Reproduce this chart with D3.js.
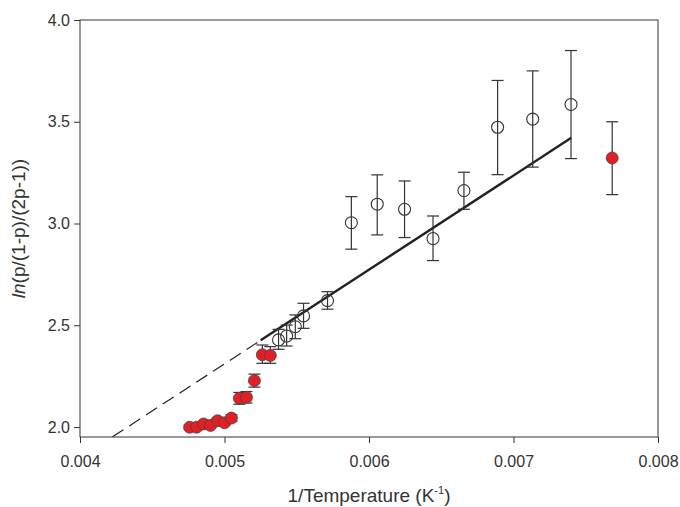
<!DOCTYPE html>
<html>
<head>
<meta charset="utf-8">
<script src="https://cdn.jsdelivr.net/npm/d3@7"></script>
<style>
  body { margin: 0; background: #fff; }
  text { font-family: "Liberation Sans", Arial, sans-serif; fill: #333; }
</style>
</head>
<body>
<div id="chart"></div>
<script>
// red (filled) points
const redX = [0.004759, 0.004807, 0.004855, 0.004903, 0.004952, 0.005, 0.005048, 0.005103, 0.005152, 0.005207, 0.005262, 0.005317, 0.007683];
const redY = [1.999, 1.999, 2.015, 2.008, 2.031, 2.021, 2.044, 2.141, 2.146, 2.228, 2.355, 2.352, 3.322];
const redLo = [1.989, 1.989, 2.003, 1.997, 2.018, 2.009, 2.028, 2.112, 2.118, 2.196, 2.313, 2.313, 3.142];
const redHi = [2.009, 2.009, 2.027, 2.019, 2.044, 2.033, 2.06, 2.17, 2.174, 2.26, 2.403, 2.395, 3.50];

// open points
const openX = [0.005374, 0.00543, 0.00549, 0.005547, 0.005713, 0.005878, 0.006057, 0.006246, 0.006443, 0.006657, 0.00689, 0.007133, 0.007398];
const openY = [2.428, 2.447, 2.493, 2.546, 2.621, 3.004, 3.095, 3.070, 2.926, 3.162, 3.473, 3.513, 3.585];
const openLo = [2.382, 2.398, 2.434, 2.485, 2.579, 2.874, 2.944, 2.931, 2.818, 3.07, 3.240, 3.277, 3.319];
const openHi = [2.480, 2.501, 2.551, 2.608, 2.665, 3.132, 3.239, 3.209, 3.037, 3.252, 3.703, 3.750, 3.850];

// fitted line: dashed part then solid part
const dashX = [0.004225, 0.00525];
const dashY = [1.952, 2.426];
const solidX = [0.00525, 0.0074];
const solidY = [2.426, 3.421];

const xTicks = [0.004, 0.005, 0.006, 0.007, 0.008];
const yTicks = [2.0, 2.5, 3.0, 3.5, 4.0];

const width = 680, height = 507;
const margin = { top: 20, right: 22, bottom: 70, left: 80 };
const iw = width - margin.left - margin.right;
const ih = height - margin.top - margin.bottom;

const svg = d3.select("#chart").append("svg")
  .attr("width", width)
  .attr("height", height);

const x = d3.scaleLinear().domain([0.004, 0.008]).range([0, iw]);
const y = d3.scaleLinear().domain([1.951, 4.0]).range([ih, 0]);

const g = svg.append("g").attr("transform", `translate(${margin.left},${margin.top})`);

g.append("defs").append("clipPath").attr("id", "clip")
  .append("rect").attr("width", iw).attr("height", ih);

// axes
const xAxis = g.append("g")
  .attr("transform", `translate(0,${ih})`)
  .call(d3.axisBottom(x).tickValues(xTicks).tickFormat(d3.format(".3f")).tickSizeOuter(0).tickSize(6).tickPadding(13));
const yAxis = g.append("g")
  .call(d3.axisLeft(y).tickValues(yTicks).tickFormat(d3.format(".1f")).tickSizeOuter(0).tickSize(6).tickPadding(4));

[xAxis, yAxis].forEach(a => {
  a.select(".domain").remove();
  a.selectAll("line").attr("stroke", "#333");
  a.selectAll("text").style("font-size", "16px").attr("fill", "#333");
});

// frame
g.append("rect")
  .attr("width", iw).attr("height", ih)
  .attr("fill", "none").attr("stroke", "#333").attr("stroke-width", 1);

// fit line
const line = d3.line().x(d => x(d[0])).y(d => y(d[1]));
const plot = g.append("g").attr("clip-path", "url(#clip)");
plot.append("path")
  .datum(d3.zip(dashX, dashY))
  .attr("d", line)
  .attr("fill", "none").attr("stroke", "#222").attr("stroke-width", 1.2)
  .attr("stroke-dasharray", "13,7");
plot.append("path")
  .datum(d3.zip(solidX, solidY))
  .attr("d", line)
  .attr("fill", "none").attr("stroke", "#222").attr("stroke-width", 2.4);

// error bars
function errorBars(xs, lo, hi) {
  const data = d3.zip(xs, lo, hi);
  const eb = g.append("g").attr("stroke", "#333").attr("stroke-width", 1.2);
  eb.selectAll(".v").data(data).join("line")
    .attr("x1", d => x(d[0])).attr("x2", d => x(d[0]))
    .attr("y1", d => y(d[1])).attr("y2", d => y(d[2]));
  eb.selectAll(".lo").data(data).join("line")
    .attr("x1", d => x(d[0]) - 6).attr("x2", d => x(d[0]) + 6)
    .attr("y1", d => y(d[1])).attr("y2", d => y(d[1]));
  eb.selectAll(".hi").data(data).join("line")
    .attr("x1", d => x(d[0]) - 6).attr("x2", d => x(d[0]) + 6)
    .attr("y1", d => y(d[2])).attr("y2", d => y(d[2]));
}
errorBars(openX, openLo, openHi);
errorBars(redX, redLo, redHi);

// open circles
g.append("g").selectAll("circle")
  .data(d3.zip(openX, openY))
  .join("circle")
  .attr("cx", d => x(d[0])).attr("cy", d => y(d[1]))
  .attr("r", 6)
  .attr("fill", "none").attr("stroke", "#333").attr("stroke-width", 1.1);

// red circles
g.append("g").selectAll("circle")
  .data(d3.zip(redX, redY))
  .join("circle")
  .attr("cx", d => x(d[0])).attr("cy", d => y(d[1]))
  .attr("r", 6)
  .attr("fill", "#e21f26").attr("stroke", "#444").attr("stroke-width", 0.8);

// axis titles
const xt = svg.append("text")
  .attr("x", margin.left + iw / 2).attr("y", 502)
  .attr("text-anchor", "middle")
  .style("font-size", "19px");
xt.append("tspan").text("1/Temperature (K");
xt.append("tspan").attr("dy", -8).style("font-size", "11px").text("-1");
xt.append("tspan").attr("dy", 8).text(")");

const yt = svg.append("text")
  .attr("transform", `translate(25,${margin.top + ih / 2}) rotate(-90)`)
  .attr("text-anchor", "middle")
  .style("font-size", "19px");
yt.append("tspan").style("font-style", "italic").text("ln");
yt.append("tspan").text("(p/(1-p)/(2p-1))");
</script>
</body>
</html>
